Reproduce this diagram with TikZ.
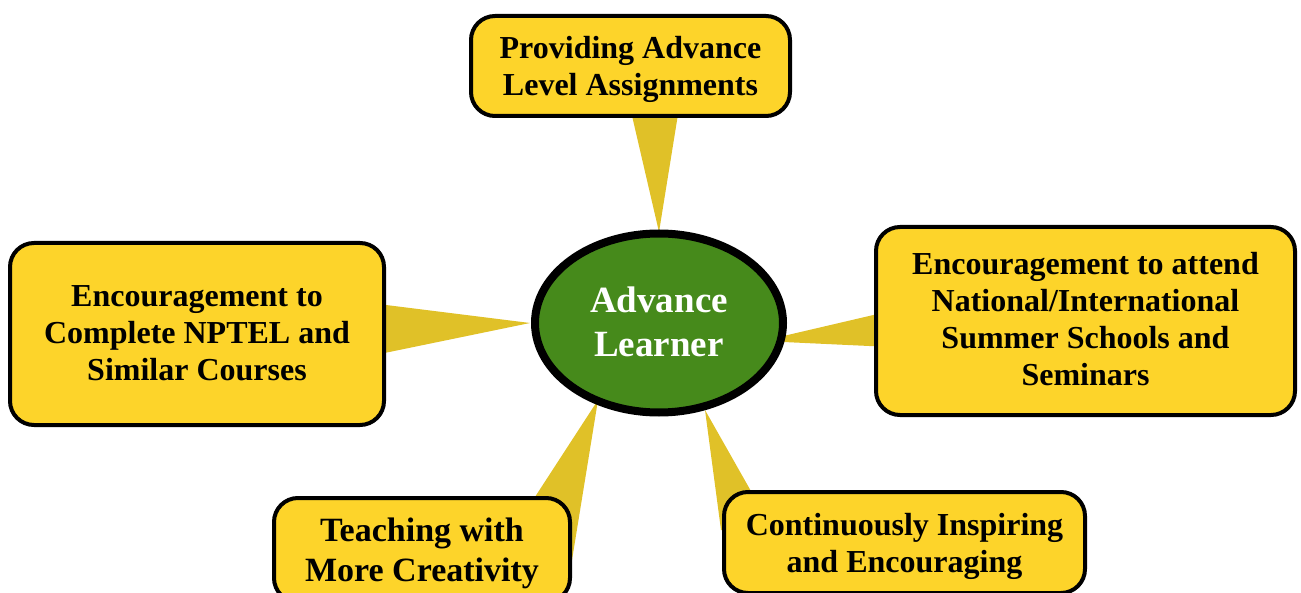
\documentclass[tikz,border=0pt]{standalone}
\usepackage{fontspec}
\setmainfont{Liberation Serif}
\usetikzlibrary{shapes.geometric,backgrounds,calc}
\definecolor{boxyellow}{HTML}{FDD42A}
\definecolor{wedgeyellow}{HTML}{E0C128}
\definecolor{hubgreen}{HTML}{468A1B}
\newcommand{\lowertext}[2]{\raisebox{-#1}[\height][\depth]{\begin{tabular}{@{}c@{}}#2\end{tabular}}}
\tikzset{
  idea/.style={draw=black, line width=4pt, fill=boxyellow, rounded corners=24pt,
    inner sep=0pt, align=center, font=\bfseries\fontsize{32}{37}\selectfont},
  hub/.style={ellipse, draw=black, line width=8pt, fill=hubgreen, inner sep=0pt,
    align=center, text=white, font=\bfseries\fontsize{37}{44}\selectfont},
  wedge/.style={fill=wedgeyellow, draw=none}
}
\begin{document}
\begin{tikzpicture}[x=1pt,y=-1pt]
\useasboundingbox (0,0) rectangle (1301,593);
\begin{scope}
\clip (0,0) rectangle (1301,593);
\node[hub, minimum width=248pt, minimum height=179pt] (hub) at (659,323) {\lowertext{3pt}{Advance\\Learner}};
\node[idea, minimum width=319pt, minimum height=100pt] (top) at (630.5,66) {\lowertext{4pt}{Providing Advance\\Level Assignments}};
\node[idea, minimum width=374pt, minimum height=182pt] (left) at (197,334) {\lowertext{2pt}{Encouragement to\\Complete NPTEL and\\Similar Courses}};
\node[idea, minimum width=419pt, minimum height=188pt] (right) at (1085.5,321) {\lowertext{1.5pt}{Encouragement to attend\\National/International\\Summer Schools and\\Seminars}};
\node[idea, minimum width=296pt, minimum height=104pt, font=\bfseries\fontsize{34}{40}\selectfont] (bl) at (422,550) {\lowertext{3.5pt}{Teaching with\\More Creativity}};
\node[idea, minimum width=361pt, minimum height=101pt] (br) at (904.5,542.5) {\lowertext{4.5pt}{Continuously Inspiring\\and Encouraging}};
\begin{scope}[on background layer]
\fill[wedge] ($(top)+(-1,39)$) -- ($(top)+(49,39)$) -- ($(hub)+(0,-91)$) -- cycle;
\fill[wedge] ($(left)+(173,-31)$) -- ($(left)+(173,22)$) -- ($(hub)+(-129,0)$) -- cycle;
\fill[wedge] ($(right)+(-195,-10)$) -- ($(right)+(-195,26)$) -- ($(hub)+(103,18)$) -- cycle;
\fill[wedge] ($(bl)+(98,-30)$) -- ($(bl)+(150,10)$) -- ($(hub)+(-61,77)$) -- cycle;
\fill[wedge] ($(br)+(-183.5,-12.5)$) -- ($(br)+(-131.5,-12.5)$) -- ($(hub)+(46,87)$) -- cycle;
\end{scope}
\end{scope}
\end{tikzpicture}
\end{document}
